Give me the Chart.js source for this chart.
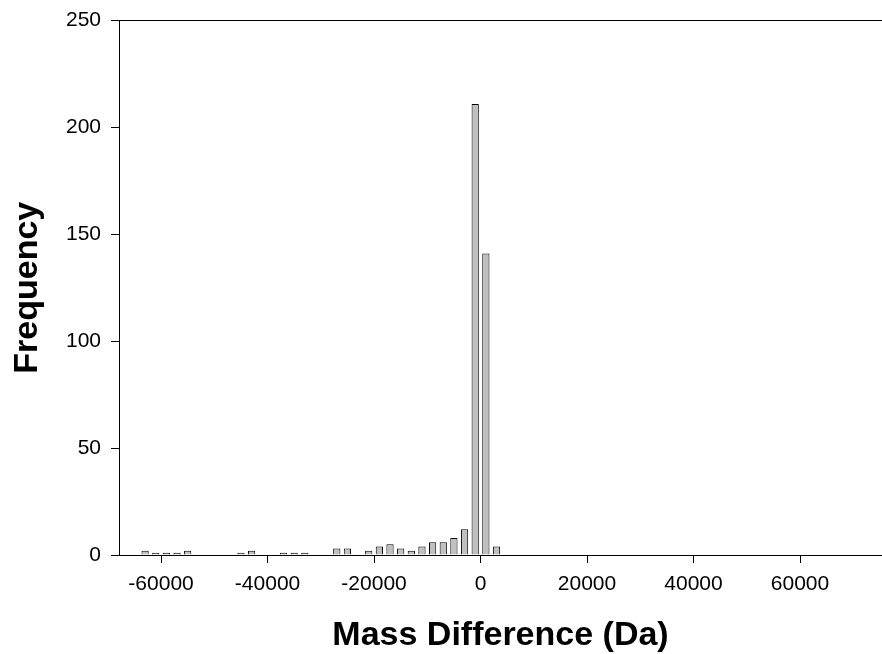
<!DOCTYPE html>
<html>
<head>
<meta charset="utf-8">
<title>Mass Difference Histogram</title>
<script src="https://cdn.jsdelivr.net/npm/chart.js@4/dist/chart.umd.min.js"></script>
<style>
  html, body { margin: 0; padding: 0; background: #fff; }
  #wrap { width: 882px; height: 654px; position: relative; }
</style>
</head>
<body>
<div id="wrap"><canvas id="chartCanvas" width="882" height="654"></canvas></div>
<script>
  // bin centres (Da), 2000 Da wide bins, only non-empty bins listed
  var binCenters = [-63000, -61000, -59000, -57000, -55000,
                    -45000, -43000,
                    -37000, -35000, -33000,
                    -27000, -25000,
                    -21000, -19000, -17000, -15000, -13000, -11000, -9000, -7000, -5000, -3000, -1000, 1000, 3000];
  var counts = [2, 1, 1, 1, 2,
                1, 2,
                1, 1, 1,
                3, 3,
                2, 4, 5, 3, 2, 4, 6, 6, 8, 12, 211, 141, 4];
  var xTicks = [-60000, -40000, -20000, 0, 20000, 40000, 60000];
  var yTicks = [0, 50, 100, 150, 200, 250];

  (function() {
    'use strict';

    var font = '"Liberation Sans", Arial, Helvetica, sans-serif';

    var points = binCenters.map(function(x, i) {
      return { x: x, y: counts[i] };
    });

    var ctx = document.getElementById('chartCanvas').getContext('2d');
    new Chart(ctx, {
      type: 'bar',
      data: {
        datasets: [{
          data: points,
          backgroundColor: '#c0c0c0',
          borderColor: '#000',
          borderWidth: 1,
          barPercentage: 0.68,
          categoryPercentage: 1
        }]
      },
      options: {
        responsive: false,
        animation: false,
        layout: { padding: { top: 19, right: 0, left: 0, bottom: 0 } },
        plugins: { legend: { display: false }, tooltip: { enabled: false } },
        scales: {
          x: {
            type: 'linear',
            min: -67900,
            max: 75400,
            offset: false,
            afterBuildTicks: function(scale) {
              scale.ticks = xTicks.map(function(v) { return { value: v }; });
            },
            afterFit: function(scale) { scale.height = 99; },
            ticks: {
              color: '#000',
              font: { family: font, size: 21 },
              padding: 9,
              maxRotation: 0,
              callback: function(v) { return String(v); }
            },
            grid: { drawOnChartArea: false, drawTicks: true, tickLength: 8, tickColor: '#000', offset: false },
            border: { display: true, color: '#000', width: 1 },
            title: {
              display: true,
              text: 'Mass Difference (Da)',
              color: '#000',
              font: { family: font, size: 34, weight: 'bold', lineHeight: 1 },
              padding: { top: 0, bottom: 1 }
            }
          },
          y: {
            min: 0,
            max: 250,
            afterBuildTicks: function(scale) {
              scale.ticks = yTicks.map(function(v) { return { value: v }; });
            },
            afterFit: function(scale) { scale.width = 119; },
            ticks: {
              color: '#000',
              font: { family: font, size: 21, lineHeight: 1 },
              padding: 10
            },
            grid: {
              drawOnChartArea: true,
              drawTicks: true,
              tickLength: 8,
              tickColor: '#000',
              color: function(c) { return c.tick && c.tick.value === 250 ? '#000' : 'rgba(0,0,0,0)'; }
            },
            border: { display: true, color: '#000', width: 1 },
            title: {
              display: true,
              text: 'Frequency',
              color: '#000',
              font: { family: font, size: 34, weight: 'bold', lineHeight: 1 },
              padding: { top: 11, bottom: 0 }
            }
          }
        }
      }
    });
  })();
</script>
</body>
</html>
